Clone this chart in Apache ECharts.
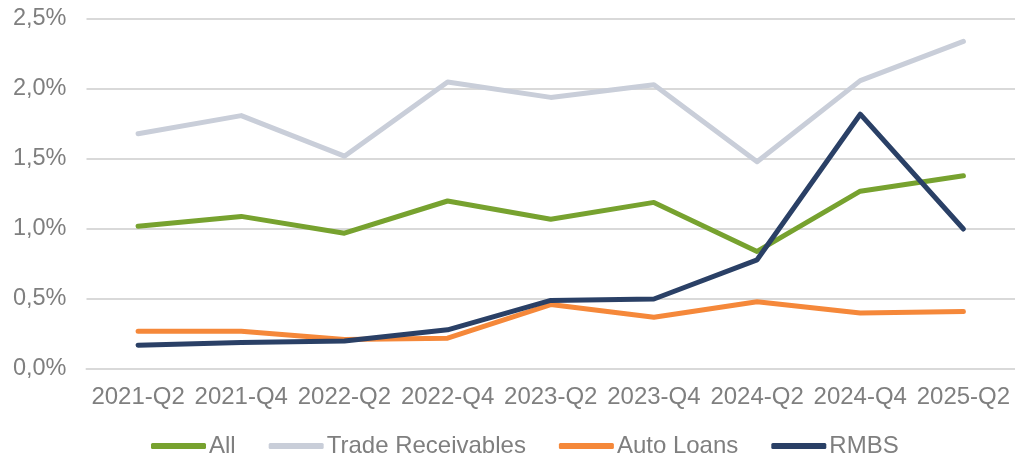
<!DOCTYPE html>
<html><head><meta charset="utf-8">
<script src="https://cdn.jsdelivr.net/npm/echarts@6/dist/echarts.min.js"></script>
<style>html,body{margin:0;padding:0;background:#fff}#c{width:1015px;height:459px}</style>
</head><body><div id="c"></div>
<script>
var categories = ['2021-Q2','2021-Q4','2022-Q2','2022-Q4','2023-Q2','2023-Q4','2024-Q2','2024-Q4','2025-Q2'];
var allValues = [1.02, 1.09, 0.97, 1.20, 1.07, 1.19, 0.84, 1.27, 1.38];
var tradeReceivables = [1.68, 1.81, 1.52, 2.05, 1.94, 2.03, 1.48, 2.06, 2.34];
var autoLoans = [0.27, 0.27, 0.21, 0.22, 0.46, 0.37, 0.48, 0.40, 0.41];
var rmbs = [0.17, 0.19, 0.20, 0.28, 0.49, 0.50, 0.78, 1.82, 1.00];
var font = 'Liberation Sans, Arial, sans-serif';
var chart = echarts.init(document.getElementById('c'));
function mk(name, data, color) {
  return {name: name, type: 'line', data: data, symbol: 'none', smooth: false,
    lineStyle: {width: 5, color: color, cap: 'round', join: 'round'}, itemStyle: {color: color}};
}
chart.setOption({
  animation: false,
  grid: {left: 86.5, right: -4, top: 19, bottom: 90, containLabel: false},
  xAxis: {type: 'category', data: categories, boundaryGap: true,
    axisLine: {show: true, lineStyle: {color: '#d9d9d9', width: 2}},
    axisTick: {show: false},
    axisLabel: {color: '#7f7f7f', fontSize: 24, fontFamily: font, margin: 16, interval: 0}},
  yAxis: {type: 'value', min: 0, max: 2.5, interval: 0.5,
    axisLine: {show: false}, axisTick: {show: false},
    splitLine: {lineStyle: {color: '#d9d9d9', width: 2}},
    axisLabel: {color: '#7f7f7f', fontSize: 23.5, fontFamily: font, margin: 20,
      formatter: function (v) { return v.toFixed(1).replace('.', ',') + '%'; }}},
  legend: {bottom: -4, left: 146, itemWidth: 55, itemHeight: 6, itemGap: 33,
    icon: 'roundRect',
    textStyle: {color: '#7f7f7f', fontSize: 24, fontFamily: font, padding: [0, 0, 0, -2]},
    data: ['All', 'Trade Receivables', 'Auto Loans', 'RMBS']},
  series: [
    mk('All', allValues, '#77A22F'),
    mk('Trade Receivables', tradeReceivables, '#C9CED9'),
    mk('Auto Loans', autoLoans, '#F5883A'),
    mk('RMBS', rmbs, '#2A4066')
  ]
});
</script></body></html>
